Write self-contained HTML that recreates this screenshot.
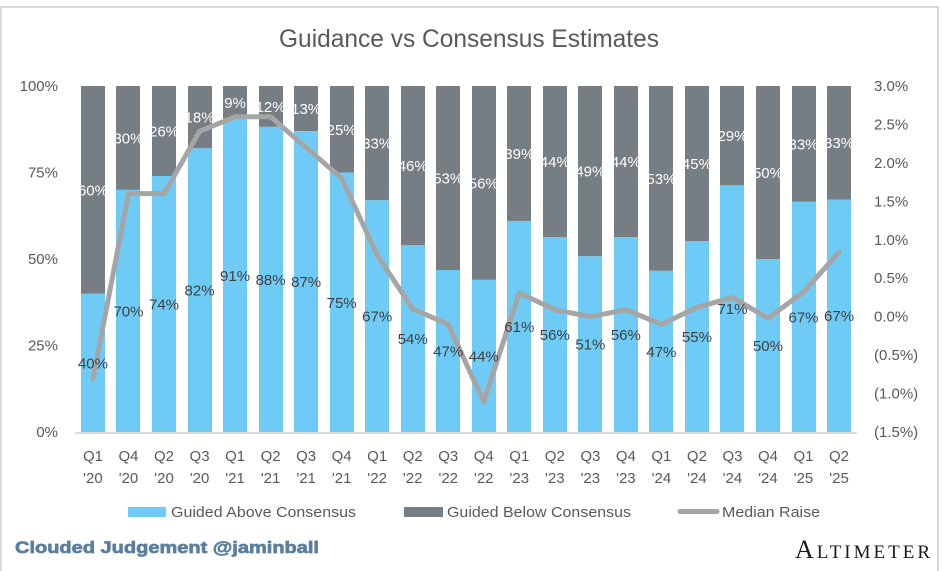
<!DOCTYPE html>
<html lang="en">
<head>
<meta charset="utf-8">
<title>Guidance vs Consensus Estimates</title>
<style>
html,body{margin:0;padding:0;background:#fff;width:943px;height:571px;overflow:hidden}
svg{display:block}
text{font-family:"Liberation Sans",Arial,sans-serif}
</style>
</head>
<body>
<svg id="chart" width="943" height="571" viewBox="0 0 943 571" xmlns="http://www.w3.org/2000/svg">
<rect x="0" y="0" width="943" height="571" fill="#fff"/>
<path d="M1 571V7H938V571" fill="none" stroke="#d9d9d9" stroke-width="2"/>
<text x="469" y="47" text-anchor="middle" font-size="25" fill="#595959" textLength="380" lengthAdjust="spacingAndGlyphs">Guidance vs Consensus Estimates</text>
<g id="bars"></g>
<g id="axis-line"></g>
<g id="line"></g>
<g id="bar-labels"></g>
<g id="left-ticks"></g>
<g id="right-ticks"></g>
<g id="cat-ticks"></g>
<rect x="128" y="507" width="38" height="10" fill="#6dcbf6"/>
<text x="171" y="517" font-size="15" fill="#595959" textLength="185" lengthAdjust="spacingAndGlyphs">Guided Above Consensus</text>
<rect x="404" y="507" width="39" height="10" fill="#767d83"/>
<text x="447" y="517" font-size="15" fill="#595959" textLength="184" lengthAdjust="spacingAndGlyphs">Guided Below Consensus</text>
<line x1="680" y1="511.5" x2="717" y2="511.5" stroke="#a5a5a5" stroke-width="5" stroke-linecap="round"/>
<text x="722" y="517" font-size="15" fill="#595959" textLength="98" lengthAdjust="spacingAndGlyphs">Median Raise</text>
<text x="15" y="553" font-size="17" font-weight="bold" fill="#5b7f9e" stroke="#5b7f9e" stroke-width="0.7" textLength="304" lengthAdjust="spacingAndGlyphs">Clouded Judgement @jaminball</text>
<text x="795" y="558" fill="#1a1a1a" textLength="135" lengthAdjust="spacing" style="font-family:'Liberation Serif',serif;font-size:19px"><tspan font-size="26">A</tspan>LTIMETER</text>
</svg>
<script>
var categories = ["Q1 '20","Q4 '20","Q2 '20","Q3 '20","Q1 '21","Q2 '21","Q3 '21","Q4 '21","Q1 '22","Q2 '22","Q3 '22","Q4 '22","Q1 '23","Q2 '23","Q3 '23","Q4 '23","Q1 '24","Q2 '24","Q3 '24","Q4 '24","Q1 '25","Q2 '25"];
var guidedAbove = [40,70,74,82,90.6,88.2,87,75,67,54,46.8,44,61,56.3,50.8,56.3,46.6,55.2,71.3,50,66.6,67.2];
var guidedBelow = [60,30,26,18,9.4,11.8,13,25,33,46,53.2,56,39,43.7,49.2,43.7,53.4,44.8,28.7,50,33.4,32.8];
var medianRaise = [-0.81,1.6,1.6,2.41,2.6,2.6,2.2,1.8,0.8,0.1,-0.1,-1.11,0.31,0.09,0,0.09,-0.1,0.12,0.25,-0.02,0.32,0.84];
var leftTicks = [0,25,50,75,100];
var rightTicks = [-1.5,-1,-0.5,0,0.5,1,1.5,2,2.5,3];

var NS = 'http://www.w3.org/2000/svg';
var plotLeft = 75.2, plotRight = 856.8, plotTop = 86, plotBottom = 432;
var barWidth = 24;
function xBand(i){ return plotLeft + (plotRight - plotLeft) * (i + 0.5) / categories.length; }
function yLeft(v){ return plotBottom - (plotBottom - plotTop) * v / 100; }
function yRight(v){ return plotBottom - (plotBottom - plotTop) * (v + 1.5) / 4.5; }
function make(parent, tag, attrs, txt){
  var el = document.createElementNS(NS, tag);
  for (var k in attrs) el.setAttribute(k, attrs[k]);
  if (txt !== undefined) el.textContent = txt;
  document.getElementById(parent).appendChild(el);
  return el;
}
function fmtRight(v){
  var s = Math.abs(v).toFixed(1) + '%';
  return v < 0 ? '(' + s + ')' : s;
}

categories.forEach(function(c, i){
  var cx = xBand(i);
  var left = Math.round(cx - barWidth / 2);
  var yA = yLeft(guidedAbove[i]);
  var yB = yLeft(guidedAbove[i] + guidedBelow[i]);
  var a = make('bars', 'rect', {x: left, y: yA, width: barWidth, height: plotBottom - yA, fill: '#6dcbf6'});
  
  
  var b = make('bars', 'rect', {x: left, y: yB, width: barWidth, height: yA - yB, fill: '#767d83'});
  
  
  var la = make('bar-labels', 'text', {x: cx, y: (yA + plotBottom) / 2 + 5.5, 'text-anchor': 'middle', 'font-size': 15, fill: '#404040'}, Math.round(guidedAbove[i]) + '%');
  
  
  var lb = make('bar-labels', 'text', {x: cx, y: (yA + yB) / 2 + 5.5, 'text-anchor': 'middle', 'font-size': 15, fill: '#ffffff'}, Math.round(guidedBelow[i]) + '%');
  
  
  var parts = c.split(' ');
  var t1 = make('cat-ticks', 'text', {x: cx, y: 461, 'text-anchor': 'middle', 'font-size': 15, fill: '#595959'}, parts[0]);
  
  
  var t2 = make('cat-ticks', 'text', {x: cx, y: 483, 'text-anchor': 'middle', 'font-size': 15, fill: '#595959'}, parts[1]);
  
  
});

var axis = make('axis-line', 'line', {x1: plotLeft, y1: plotBottom + 1, x2: plotRight, y2: plotBottom + 1, stroke: '#d9d9d9', 'stroke-width': 2});



var pts = medianRaise.map(function(v, i){ return xBand(i) + ',' + yRight(v); }).join(' ');
var poly = make('line', 'polyline', {points: pts, fill: 'none', stroke: '#a5a5a5', 'stroke-width': 5, 'stroke-linecap': 'round', 'stroke-linejoin': 'round'});



leftTicks.forEach(function(v){
  var t = make('left-ticks', 'text', {x: 58, y: yLeft(v) + 5, 'text-anchor': 'end', 'font-size': 15, fill: '#595959'}, v + '%');
  
  
});
rightTicks.forEach(function(v){
  var t = make('right-ticks', 'text', {x: 874, y: yRight(v) + 5, 'text-anchor': 'start', 'font-size': 15, fill: '#595959'}, fmtRight(v));
  
  
});
</script>
</body>
</html>
